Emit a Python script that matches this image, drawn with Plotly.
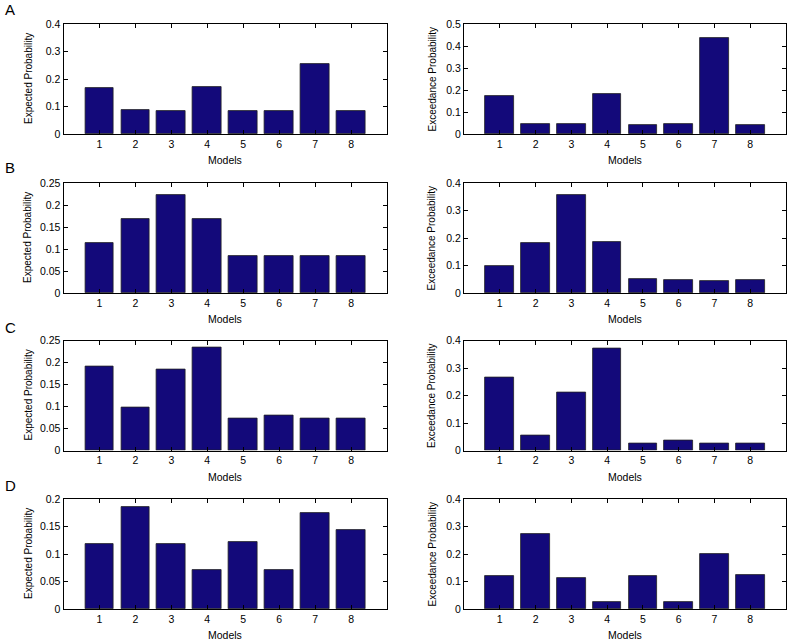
import plotly.graph_objects as go

W, H = 789, 641

models = [1, 2, 3, 4, 5, 6, 7, 8]
model_labels = ["1", "2", "3", "4", "5", "6", "7", "8"]

a_expected = [0.166, 0.086, 0.084, 0.171, 0.084, 0.085, 0.254, 0.084]
a_exceedance = [0.171, 0.044, 0.047, 0.182, 0.041, 0.047, 0.438, 0.041]
b_expected = [0.113, 0.168, 0.223, 0.168, 0.084, 0.084, 0.084, 0.084]
b_exceedance = [0.100, 0.183, 0.357, 0.186, 0.050, 0.048, 0.045, 0.048]
c_expected = [0.192, 0.098, 0.183, 0.235, 0.073, 0.080, 0.072, 0.073]
c_exceedance = [0.264, 0.056, 0.211, 0.371, 0.025, 0.036, 0.024, 0.025]
d_expected = [0.119, 0.185, 0.119, 0.0715, 0.121, 0.0715, 0.174, 0.144]
d_exceedance = [0.119, 0.274, 0.113, 0.027, 0.121, 0.027, 0.200, 0.124]

panel_letters = ["A", "B", "C", "D"]
left_title = "Expected Probability"
right_title = "Exceedance Probability"
x_title = "Models"

rows = [
    (a_expected, a_exceedance, (0.4, 0.1), (0.5, 0.1)),
    (b_expected, b_exceedance, (0.25, 0.05), (0.4, 0.1)),
    (c_expected, c_exceedance, (0.25, 0.05), (0.4, 0.1)),
    (d_expected, d_exceedance, (0.2, 0.05), (0.4, 0.1)),
]

# pixel geometry
row_px = [(24, 134), (183, 293), (340.5, 450.5), (499, 609)]
col_px = [(63.5, 387), (464, 786)]
letter_y = [9, 168, 327.5, 485]

BAR = "#13097a"
FONT = "Liberation Sans, Arial, Helvetica, sans-serif"

fig = go.Figure()
annotations = []

def fx(px):
    return px / W

def fy(py):
    return 1 - py / H

idx = 0
for r, (lv, rv, lax, rax) in enumerate(rows):
    top, bot = row_px[r]
    for c, (vals, ax) in enumerate([(lv, lax), (rv, rax)]):
        idx += 1
        xa = "x" if idx == 1 else f"x{idx}"
        ya = "y" if idx == 1 else f"y{idx}"
        fig.add_trace(go.Bar(
            x=models, y=vals, width=0.8,
            marker=dict(color=BAR, line=dict(color="#222222", width=0.8)),
            xaxis=xa, yaxis=ya, showlegend=False,
        ))
        l, rt = col_px[c]
        common = dict(
            showline=True, linecolor="black", linewidth=1, mirror="allticks",
            ticks="inside", ticklen=4, tickcolor="black", tickwidth=1,
            showgrid=False, zeroline=False, automargin=False,
            tickfont=dict(family=FONT, size=10.5, color="black"),
        )
        fig.layout[f"xaxis{'' if idx == 1 else idx}"] = dict(
            domain=[fx(l), fx(rt)], anchor=ya, range=[0, 9],
            tickmode="array", tickvals=models, ticktext=model_labels,
            **common,
        )
        ymax, step = ax
        fig.layout[f"yaxis{'' if idx == 1 else idx}"] = dict(
            domain=[fy(bot), fy(top)], anchor=xa, range=[0, ymax],
            dtick=step, tick0=0,
            **common,
        )
        # x title
        annotations.append(dict(
            text=x_title, xref="paper", yref="paper",
            x=fx((l + rt) / 2), y=fy(bot + 26), showarrow=False,
            xanchor="center", yanchor="middle",
            font=dict(family=FONT, size=10.5, color="black"),
        ))
        # y title
        tx = 28 if c == 0 else 431.5
        annotations.append(dict(
            text=left_title if c == 0 else right_title,
            xref="paper", yref="paper",
            x=fx(tx), y=fy((top + bot) / 2), showarrow=False, textangle=-90,
            xanchor="center", yanchor="middle",
            font=dict(family=FONT, size=10, color="black"),
        ))
    annotations.append(dict(
        text=panel_letters[r], xref="paper", yref="paper",
        x=fx(10), y=fy(letter_y[r]), showarrow=False,
        xanchor="center", yanchor="middle",
        font=dict(family=FONT, size=15, color="black"),
    ))

fig.update_layout(
    template="none",
    width=W, height=H,
    margin=dict(l=0, r=0, t=0, b=0, autoexpand=False),
    paper_bgcolor="white", plot_bgcolor="white",
    annotations=annotations,
    bargap=0,
)

fig.write_html(
    "out.html",
    config={"displayModeBar": False},
    post_script="document.body.style.margin='0';document.body.style.padding='0';",
)
